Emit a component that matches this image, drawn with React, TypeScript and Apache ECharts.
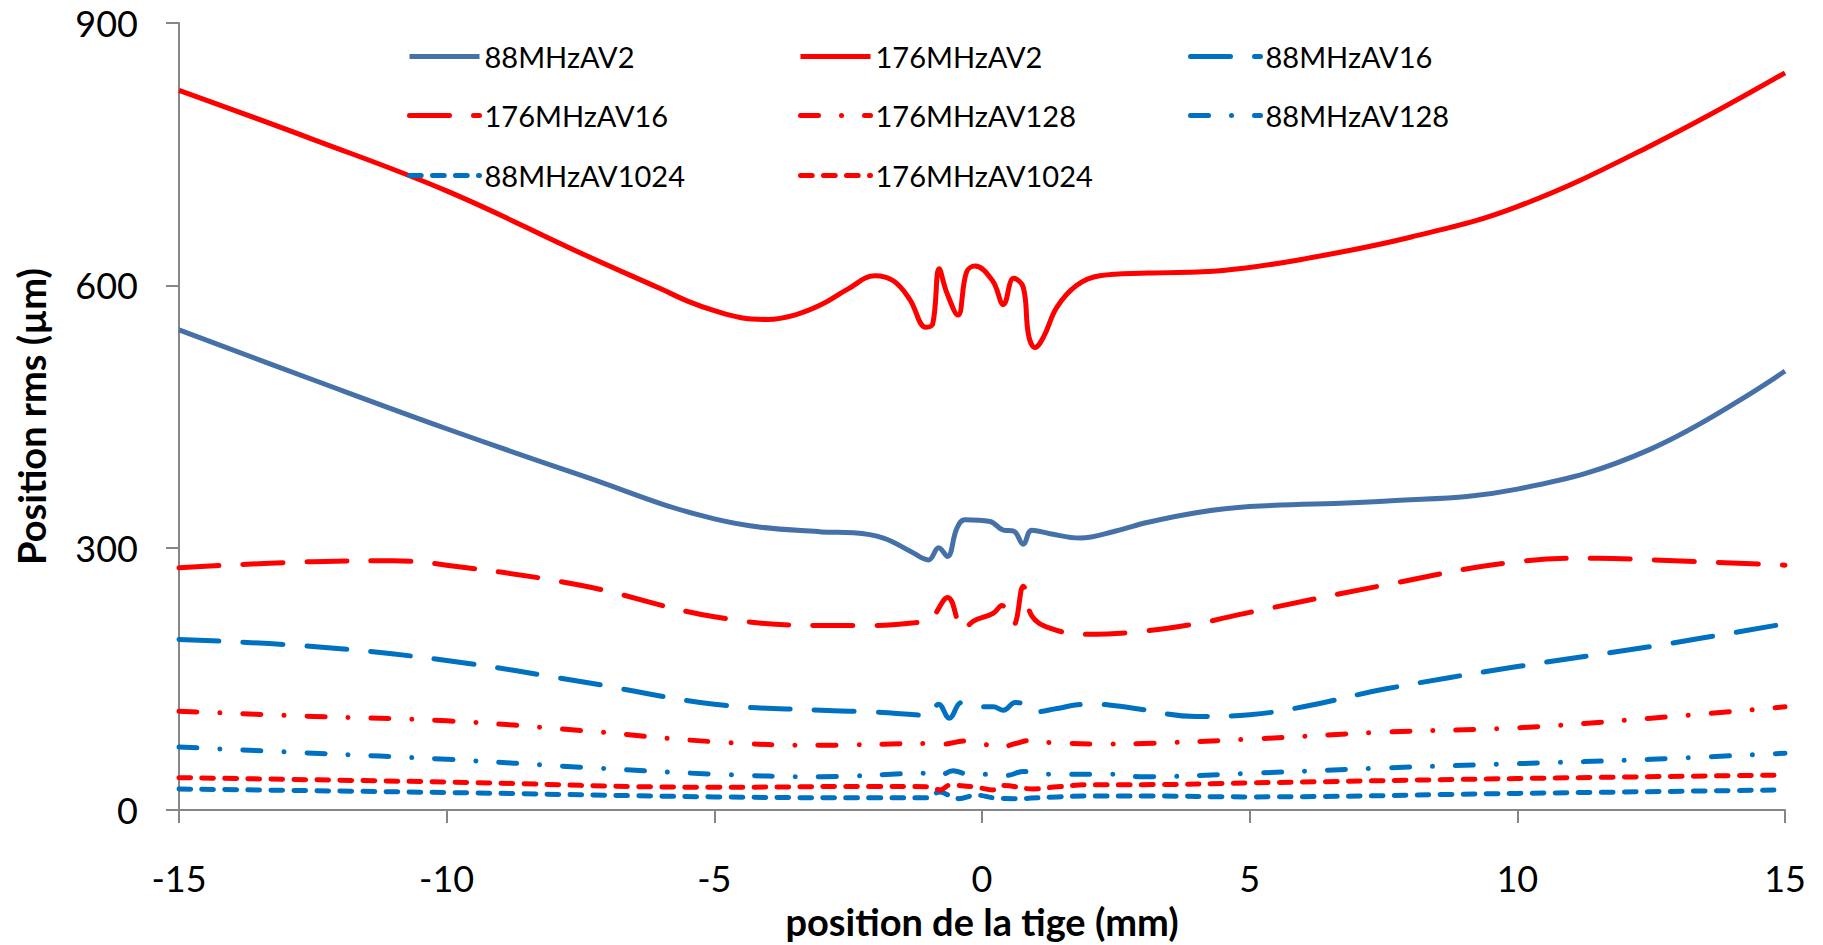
import React, { useEffect, useRef } from "react";
import * as echarts from "echarts";

// ---------- data ----------
const xTicks = [-15, -10, -5, 0, 5, 10, 15];
const yTicks = [0, 300, 600, 900];

const x176AV2 = [-15, -12.5, -10, -7.5, -6, -5.5, -5, -4.5, -4, -3.5, -3, -2.5, -2, -1.65, -1.35, -1.05, -0.92, -0.8, -0.66, -0.45, -0.29, -0.13, 0.2, 0.4, 0.59, 0.77, 0.87, 0.99, 1.15, 1.4, 1.77, 2.2, 3.1, 4.5, 6, 8, 10, 12.5, 15];
const y176AV2 = [823, 767, 708, 637, 596, 582, 571, 563, 561, 566, 578, 596, 611, 605, 584, 552, 556, 619, 592, 566, 615, 622, 605, 578, 608, 598, 543, 529, 541, 575, 600, 611, 614, 617, 630, 655, 690, 760, 843];

const x88AV2 = [-15, -12.5, -10, -7.5, -5, -3, -2.4, -1.84, -1.34, -1.0, -0.81, -0.645, -0.47, -0.32, 0.15, 0.4, 0.59, 0.77, 0.93, 1.27, 1.83, 2.5, 3.1, 4, 5, 7.5, 10, 12.5, 15];
const y88AV2 = [549, 492, 436, 383, 333, 318, 317, 311, 296, 286, 300, 290, 322, 332, 330, 320, 319, 304, 320, 316, 311, 319, 329, 340, 347, 353, 367, 413, 502];

const x176AV16 = [-15, -12.5, -11, -10, -7.5, -5, -3, -2, -1.28, -0.97, -0.64, -0.35, -0.16, 0.21, 0.37, 0.59, 0.77, 0.93, 1.27, 1.89, 2.77, 4, 5, 7.5, 10, 11.5, 12.5, 15];
const y176AV16 = [277, 284, 285, 280, 257, 221, 211, 211, 214, 218, 243, 206, 216, 225, 234, 212, 256, 222, 208, 201, 203, 213, 226, 257, 284, 288, 286, 280];

const x88AV16 = [-15, -12.5, -10, -7.5, -5, -3, -2, -1.25, -1.0, -0.81, -0.61, -0.38, -0.1, 0.21, 0.4, 0.62, 0.77, 0.96, 1.4, 1.74, 2.08, 2.77, 4, 5, 6, 7.5, 10, 12.5, 15];
const y88AV16 = [195, 187, 171, 147, 121, 114, 112, 109, 108, 121, 105, 123, 118, 118, 114, 123, 121, 112, 116, 120, 121, 117, 107, 109, 118, 138, 164, 187, 213];

const x176AV128 = [-15, -12.5, -10, -7.5, -5, -3, -1, -0.78, -0.29, 0.05, 0.38, 0.59, 0.96, 1.3, 2.4, 3, 5, 7.5, 10, 12.5, 15];
const y176AV128 = [113, 107, 102, 91, 78, 74, 76, 75, 79, 75, 72, 75.5, 80, 77, 75.5, 76, 81, 89, 94, 105, 118];

const x88AV128 = [-15, -12.5, -10, -7.5, -5, -3, -1, -0.81, -0.54, -0.26, 0.21, 0.46, 0.77, 1.27, 2.4, 3, 5, 7.5, 10, 12.5, 15];
const y88AV128 = [72, 65, 58, 49, 41, 38, 42, 39, 45, 41, 41, 39.5, 44, 41, 41, 38, 42, 48, 53, 58, 65];

const x176AV1024 = [-15, -10, -5, -2, -1, -0.78, -0.6, -0.1, 0.21, 0.4, 0.96, 1.4, 2.1, 3, 5, 10, 15];
const y176AV1024 = [37, 32, 26, 27, 26.5, 23, 28.5, 26, 23, 28, 24, 26.5, 29, 29, 31, 36, 40];

const x88AV1024 = [-15, -10, -5, -2, -1, -0.8, -0.44, -0.1, 0.21, 0.6, 1.4, 2.1, 3, 5, 10, 15];
const y88AV1024 = [24, 20, 15, 14, 14, 20.5, 13, 17, 14, 13, 15, 16, 16, 15, 19, 23];

const seriesNames = ["88MHzAV2", "176MHzAV2", "88MHzAV16", "176MHzAV16", "176MHzAV128", "88MHzAV128", "88MHzAV1024", "176MHzAV1024"];

// ---------- styles ----------
const RED = "#FF0000";
const STEEL = "#4571A8";
const BLUE = "#0070C0";
const LW = 5;
const LONG_DASH = [40, 24];
const DASH_DOT = [18, 23, 0.01, 23];
const SHORT_DASH = [11.7, 11.3];

const FONT = "Lato, 'Noto Sans', sans-serif";

function pairs(xs: number[], ys: number[]) {
  return xs.map((x, i) => [x, ys[i]]);
}

export default function App() {
  const ref = useRef<HTMLDivElement>(null);
  useEffect(() => {
    if (!ref.current) return;
    const chart = echarts.init(ref.current, null, { renderer: "svg" });

    const styles: Record<string, { color: string; type: any }> = {};
    const mk = (name: string, xs: number[], ys: number[], color: string, type: any) => {
      styles[name] = { color, type };
      return {
        name,
        type: "line",
        data: pairs(xs, ys),
        symbol: "none",
        smooth: 0.4,
        lineStyle: { color, width: LW, type, cap: type === "solid" ? "butt" : "round", join: "round" },
        itemStyle: { color },
        emphasis: { disabled: true },
      };
    };

    const series = [
      mk("88MHzAV2", x88AV2, y88AV2, STEEL, "solid"),
      mk("176MHzAV2", x176AV2, y176AV2, RED, "solid"),
      mk("88MHzAV16", x88AV16, y88AV16, BLUE, LONG_DASH),
      mk("176MHzAV16", x176AV16, y176AV16, RED, LONG_DASH),
      mk("176MHzAV128", x176AV128, y176AV128, RED, DASH_DOT),
      mk("88MHzAV128", x88AV128, y88AV128, BLUE, DASH_DOT),
      mk("88MHzAV1024", x88AV1024, y88AV1024, BLUE, SHORT_DASH),
      mk("176MHzAV1024", x176AV1024, y176AV1024, RED, SHORT_DASH),
    ];

    const colLeft = [407, 798, 1188];
    const rowCenter = [58, 117, 177];
    const legends = seriesNames.map((n, i) => ({
      data: [n],
      left: colLeft[i % 3],
      top: rowCenter[Math.floor(i / 3)] - 16,
      padding: 0,
      itemWidth: 70,
      itemHeight: 32,
      selectedMode: false,
      itemStyle: { opacity: 0, borderWidth: 0 },
      lineStyle: {
        color: styles[n].color,
        width: LW,
        type: styles[n].type,
        cap: styles[n].type === "solid" ? "butt" : "round",
        opacity: 1,
      },
      textStyle: { fontFamily: FONT, fontSize: 29, color: "#000" },
    }));

    const axisLineStyle = { color: "#868686", width: 2 };

    chart.setOption({
      animation: false,
      backgroundColor: "#fff",
      legend: legends,
      grid: { left: 179, right: 38, top: 23, bottom: 132, containLabel: false },
      xAxis: {
        type: "value",
        min: xTicks[0],
        max: xTicks[xTicks.length - 1],
        interval: 5,
        name: "position de la tige (mm)",
        nameLocation: "middle",
        nameGap: 92,
        nameTextStyle: { fontFamily: FONT, fontSize: 38, fontWeight: "bold", color: "#000" },
        axisLine: { show: true, onZero: false, lineStyle: axisLineStyle },
        axisTick: { show: true, length: 13, lineStyle: axisLineStyle },
        axisLabel: { fontFamily: FONT, fontSize: 36, color: "#000", margin: 50 },
        splitLine: { show: false },
      },
      yAxis: {
        type: "value",
        min: yTicks[0],
        max: yTicks[yTicks.length - 1],
        interval: 300,
        name: "Position rms (µm)",
        nameLocation: "middle",
        nameGap: 129,
        nameTextStyle: { fontFamily: FONT, fontSize: 38, fontWeight: "bold", color: "#000" },
        axisLine: { show: true, onZero: false, lineStyle: axisLineStyle },
        axisTick: { show: true, length: 13, lineStyle: axisLineStyle },
        axisLabel: { fontFamily: FONT, fontSize: 36, color: "#000", margin: 41 },
        splitLine: { show: false },
      },
      series,
    });
    return () => chart.dispose();
  }, []);

  return (
    <div
      ref={ref}
      style={{ position: "fixed", left: 0, top: 0, width: 1823, height: 945, background: "#fff" }}
    />
  );
}
